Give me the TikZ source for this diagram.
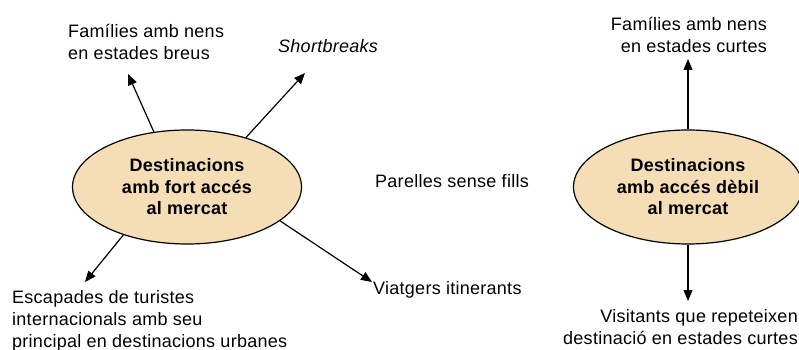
\documentclass[tikz,border=0pt]{standalone}
\usepackage{fontspec}
\setmainfont{Liberation Sans}[LetterSpace=1.5]
\usetikzlibrary{shapes.geometric,arrows.meta}
\definecolor{destfill}{RGB}{245,222,182}
\tikzset{
  dest/.style={ellipse, draw=black, line width=1.2pt, fill=destfill,
    minimum width=229pt, minimum height=114pt, inner sep=0pt, align=center,
    font=\fontsize{18}{21.5}\selectfont\bfseries},
  lbl/.style={inner sep=0pt, font=\fontsize{18}{22}\selectfont},
  link/.style={line width=1.2pt, -{Triangle[length=11pt,width=9pt]}}
}
\begin{document}
\begin{tikzpicture}[x=1pt,y=-1pt]
\useasboundingbox (0,0) rectangle (799,350);

% market-access destinations
\node[dest] (strong) at (187,187) {Destinacions\\amb fort accés\\al mercat};
\node[dest] (weak) at (688,187) {Destinacions\\amb accés dèbil\\al mercat};

% segments around the strong-access destination
\node[lbl, align=left, anchor=north west] (famA) at (68,24) {Famílies amb nens\\en estades breus};
\node[lbl, anchor=west] (short) at (278,46) {\itshape Shortbreaks};
\node[lbl, anchor=west] (couples) at (375,181) {Parelles sense fills};
\node[lbl, anchor=west] (travel) at (373,290) {Viatgers itinerants};
\node[lbl, align=left, anchor=north west] (escape) at (12,290)
  {Escapades de turistes\\internacionals amb seu\\principal en destinacions urbanes};

% segments around the weak-access destination
\node[lbl, align=right, anchor=north east] (famB) at (767,17) {Famílies amb nens\\en estades curtes};
\node[lbl, align=right, anchor=north east] (visit) at (798,309) {Visitants que repeteixen\\destinació en estades curtes};

% arrow ends
\coordinate (tFamA) at (128,74);
\coordinate (tShort) at (305,73);
\coordinate (tEscape) at (85,282);
\coordinate (tTravel) at (372,282);
\coordinate (tFamB) at (688,59);
\coordinate (tVisit) at (688,301);

\draw[link] (strong.121) -- (tFamA);
\draw[link] (strong.40) -- (tShort);
\draw[link] (strong.217) -- (tEscape);
\draw[link] (strong.340) -- (tTravel);
\draw[link] (weak.north) -- (tFamB);
\draw[link] (weak.south) -- (tVisit);
\end{tikzpicture}
\end{document}
